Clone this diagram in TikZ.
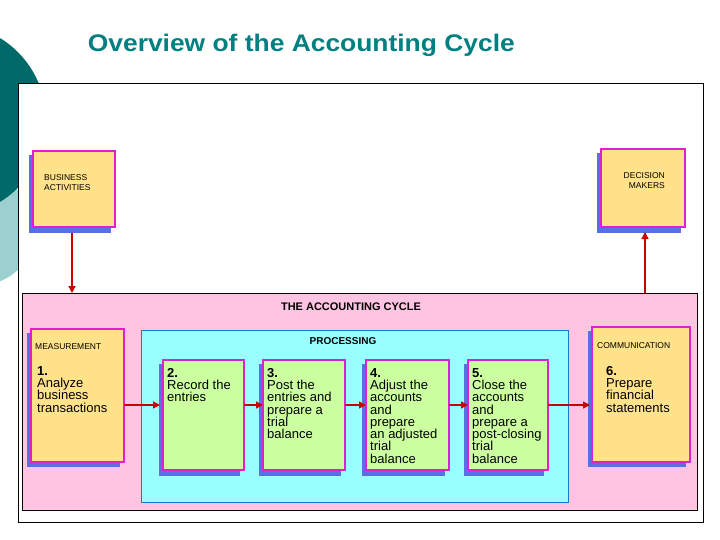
\documentclass[tikz,border=0pt]{standalone}
\usepackage{fontspec}
\setmainfont{Liberation Sans}
\usetikzlibrary{arrows.meta}
\definecolor{teal1}{HTML}{006A6A}
\definecolor{teal2}{HTML}{9CCFCF}
\definecolor{pinkbg}{HTML}{FFC4E1}
\definecolor{cyanbg}{HTML}{99FFFF}
\definecolor{yelbox}{HTML}{FFE28A}
\definecolor{grnbox}{HTML}{CCFFA0}
\definecolor{shadowb}{HTML}{5A6FE0}
\definecolor{magb}{HTML}{E020D0}
\begin{document}
\begin{tikzpicture}[x=1pt,y=-1pt,
  ybox/.style={draw=magb,line width=1.2pt,fill=yelbox},
  gbox/.style={draw=magb,line width=1.2pt,fill=grnbox},
  shad/.style={fill=shadowb},
  flow/.style={-{Triangle[length=7pt,width=7pt]},red!80!black,line width=1.2pt},
  small/.style={font=\fontsize{8.5}{10}\selectfont,align=left,anchor=north west,inner sep=0},
  txt/.style={font=\fontsize{13}{12.3}\selectfont,align=left,anchor=north west,inner sep=0}]
\useasboundingbox (0,0) rectangle (720,540);
% side ornament
\fill[teal2] (-20,230) circle (55);
\fill[teal1] (-50,120) circle (96);
\fill[white] (48,0) rectangle (720,540);
\node[font=\bfseries\fontsize{24}{28}\selectfont,text=teal1!85!cyan,anchor=west,xscale=1.1] (title) at (84,45) {Overview of the Accounting Cycle};
% frame
\draw[fill=white,line width=1pt] (18,84) rectangle (703,522);
% top boxes
\fill[shad] (29,155) rectangle (111,233);
\draw[ybox] (33,151) rectangle (115,227);
\node[small] (bus) at (44,174) {BUSINESS\\ACTIVITIES};
\fill[shad] (597,153) rectangle (681,233);
\draw[ybox] (601,149) rectangle (685,227);
\node[small,align=right,anchor=north east] (dec) at (665,172) {DECISION\\MAKERS};
\coordinate (a1) at (72,233); \coordinate (a2) at (72,293);
\coordinate (b1) at (645,293); \coordinate (b2) at (645,232);
\draw[flow] (a1) -- (a2);
\draw[flow] (b1) -- (b2);
% cycle panel
\draw[fill=pinkbg,line width=0.8pt] (22,293) rectangle (697,510);
\node[font=\bfseries\fontsize{11}{12}\selectfont] (cyc) at (351,307) {THE ACCOUNTING CYCLE};
\draw[fill=cyanbg,draw=cyan!60!blue] (141,330) rectangle (568,502);
\node[font=\bfseries\fontsize{10}{11}\selectfont] (proc) at (343,341) {PROCESSING};
% measurement
\fill[shad] (27,333) rectangle (120,467);
\draw[ybox] (31,329) rectangle (124,462);
\node[small] (meas) at (35,343) {MEASUREMENT};
\node[txt] (m1) at (37,366) {\textbf{1.}\\Analyze\\business\\transactions};
% communication
\fill[shad] (588,331) rectangle (686,467);
\draw[ybox] (592,327) rectangle (690,462);
\node[small] (comm) at (597,342) {COMMUNICATION};
\node[txt] (c6) at (606,366) {\textbf{6.}\\Prepare\\financial\\statements};
% processing steps
\foreach \xa/\xb/\name/\t in {163/244/p2/{\textbf{2.}\\Record the\\entries},
  263/345/p3/{\textbf{3.}\\Post the\\entries and\\prepare a\\trial\\balance},
  366/449/p4/{\textbf{4.}\\Adjust the\\accounts\\and\\prepare\\an adjusted\\trial\\balance},
  468/548/p5/{\textbf{5.}\\Close the\\accounts\\and\\prepare a\\post-closing\\trial\\balance}}{
  \fill[shad] (\xa-4,364) rectangle (\xb-4,476);
  \draw[gbox] (\xa,360) rectangle (\xb,470);
  \node[txt] (\name) at (\xa+4,368) {\t};
}
\foreach \s/\e in {124/160,244/263,345/366,449/468,548/590}{
  \coordinate (s\s) at (\s,405); \coordinate (e\s) at (\e,405);
  \draw[flow] (s\s) -- (e\s);
}
\end{tikzpicture}
\end{document}
